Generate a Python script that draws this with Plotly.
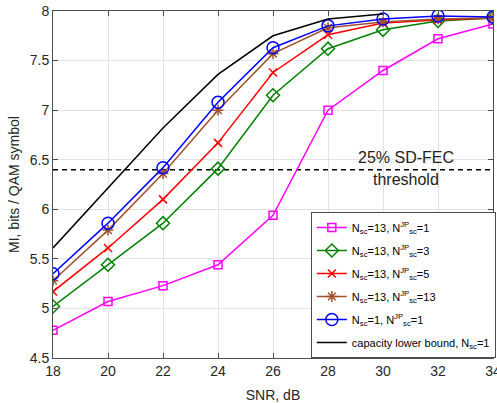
import plotly.graph_objects as go

snr = [18, 20, 22, 24, 26, 28, 30, 32, 34]
mi_jp1 = [4.78, 5.07, 5.23, 5.44, 5.94, 7.00, 7.40, 7.72, 7.87]
mi_jp3 = [5.02, 5.44, 5.86, 6.41, 7.15, 7.62, 7.81, 7.90, 7.93]
mi_jp5 = [5.17, 5.61, 6.10, 6.67, 7.38, 7.76, 7.88, 7.91, 7.93]
mi_jp13 = [5.28, 5.79, 6.36, 7.00, 7.57, 7.83, 7.89, 7.92, 7.93]
mi_nsc1 = [5.35, 5.86, 6.42, 7.08, 7.63, 7.85, 7.92, 7.95, 7.94]
snr_cap = [18, 20, 22, 24, 26, 28, 30]
mi_cap = [5.61, 6.21, 6.82, 7.36, 7.75, 7.92, 7.97]
thr_x = [18, 34]
thr_y = [6.40, 6.40]

names = [
    "N<sub>sc</sub>=13, N<sup>JP</sup><sub>sc</sub>=1",
    "N<sub>sc</sub>=13, N<sup>JP</sup><sub>sc</sub>=3",
    "N<sub>sc</sub>=13, N<sup>JP</sup><sub>sc</sub>=5",
    "N<sub>sc</sub>=13, N<sup>JP</sup><sub>sc</sub>=13",
    "N<sub>sc</sub>=1, N<sup>JP</sup><sub>sc</sub>=1",
    "capacity lower bound, N<sub>sc</sub>=1",
]
colors = ["#FF00FF", "#008000", "#FF0000", "#A0522D", "#0000FF", "#000000"]
symbols = ["square-open", "diamond-open", "x-thin-open", "asterisk-open", "circle-open", None]
sizes = [8, 10, 8, 9, 12, 0]
series = [mi_jp1, mi_jp3, mi_jp5, mi_jp13, mi_nsc1, mi_cap]

fig = go.Figure()
fig.add_trace(go.Scatter(x=thr_x, y=thr_y, mode="lines", showlegend=False,
                         line=dict(color="black", width=1.5, dash="5px,4px"),
                         hoverinfo="skip"))
for i in range(6):
    xs = snr_cap if i == 5 else snr
    if symbols[i] is None:
        fig.add_trace(go.Scatter(x=xs, y=series[i], mode="lines", name=names[i],
                                 legendgroup=f"g{i}",
                                 line=dict(color=colors[i], width=1.5)))
    else:
        fig.add_trace(go.Scatter(x=xs, y=series[i], mode="lines+markers", name=names[i],
                                 legendgroup=f"g{i}",
                                 line=dict(color=colors[i], width=1.5),
                                 marker=dict(symbol=symbols[i], size=sizes[i],
                                             color=colors[i],
                                             line=dict(color=colors[i], width=1.5))))

fig.add_annotation(x=30.85, y=6.4, text="25% SD-FEC", showarrow=False,
                   yshift=12, font=dict(size=16, color="#222"))
fig.add_annotation(x=30.85, y=6.4, text="threshold", showarrow=False,
                   yshift=-10, font=dict(size=16, color="#222"))

axis_common = dict(showgrid=True, gridcolor="#E3E3E3", gridwidth=1,
                   showline=True, linecolor="#4D4D4D", linewidth=1, mirror="ticks",
                   ticks="inside", ticklen=5, tickcolor="#4D4D4D", automargin=False,
                   ticklabeloverflow="allow",
                   tickfont=dict(size=14, color="#262626"), zeroline=False)

fig.update_layout(
    width=497, height=403,
    margin=dict(l=53, r=4, t=11, b=45, autoexpand=False),
    paper_bgcolor="white", plot_bgcolor="white",
    font=dict(family="Liberation Sans, Arial, sans-serif", color="#262626"),
    xaxis=dict(range=[18, 34], tickvals=[18, 20, 22, 24, 26, 28, 30, 32, 34],
               title=dict(text="SNR, dB", font=dict(size=14)),
               **axis_common),
    yaxis=dict(range=[4.5, 8], tickvals=[4.5, 5, 5.5, 6, 6.5, 7, 7.5, 8],
               title=dict(text="MI, bits / QAM symbol", font=dict(size=14), standoff=6),
               **axis_common),
    legend=dict(x=0.586, y=0, xanchor="left", yanchor="bottom",
                bgcolor="white", bordercolor="#4D4D4D", borderwidth=1,
                font=dict(size=11, color="#000"), tracegroupgap=4,
                itemwidth=30),
    showlegend=True,
)

fig.write_html("out.html", config={"displayModeBar": False},
               post_script="document.body.style.margin='0';document.body.style.overflow='hidden';")
